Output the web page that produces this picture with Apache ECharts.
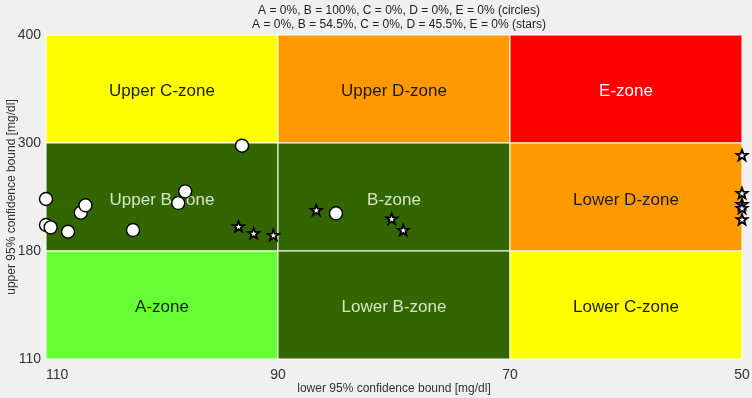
<!DOCTYPE html>
<html>
<head>
<meta charset="utf-8">
<script src="https://cdn.jsdelivr.net/npm/echarts@6/dist/echarts.min.js"></script>
<style>
html,body{margin:0;padding:0;background:#f0f0f0;}
#chart{width:752px;height:398px;}
</style>
</head>
<body>
<div id="chart"></div>
<script>
// ---- data ----
const titleLines = [
  "A = 0%, B = 100%, C = 0%, D = 0%, E = 0% (circles)",
  "A = 0%, B = 54.5%, C = 0%, D = 45.5%, E = 0% (stars)"
];
const xTicks = [110, 90, 70, 50];
const yTicks = [110, 180, 300, 400];
const xLabel = "lower 95% confidence bound [mg/dl]";
const yLabel = "upper 95% confidence bound [mg/dl]";

const zoneNames = ["Upper C-zone", "Upper D-zone", "E-zone",
                   "Upper B-zone", "B-zone", "Lower D-zone",
                   "A-zone", "Lower B-zone", "Lower C-zone"];
const zoneX = [[110, 90], [90, 70], [70, 50]];
const zoneY = [[300, 400], [180, 300], [110, 180]];

const circleLower = [110.0, 110.0, 109.6, 108.1, 107.0, 106.6, 102.5, 98.6, 98.0, 93.1, 85.0];
const circleUpper = [237.8, 208.9, 206.3, 201.4, 222.6, 230.8, 203.3, 233.3, 246.3, 297.0, 221.9];
const starLower = [93.4, 92.1, 90.4, 86.7, 80.2, 79.2, 50, 50, 50, 50, 50];
const starUpper = [207.4, 199.7, 197.8, 225.6, 215.9, 203.3, 286.7, 244.4, 232.2, 227.8, 215.2];

// ---- styling ----
const zoneColors = ["#ffff00", "#ff9900", "#ff0000",
                    "#336600", "#336600", "#ff9900",
                    "#66ff33", "#336600", "#ffff00"];
const zoneTextColors = ["#1a1a1a", "#1a1a1a", "#ffffff",
                        "#d5e6c6", "#d5e6c6", "#1a1a1a",
                        "#1a1a1a", "#d5e6c6", "#1a1a1a"];
const FONT = "Liberation Sans";

// piecewise-linear y scale: each band between ticks gets equal height
function yPos(v) {
  for (let i = 0; i < yTicks.length - 1; i++) {
    if (v <= yTicks[i + 1]) return i + (v - yTicks[i]) / (yTicks[i + 1] - yTicks[i]);
  }
  return yTicks.length - 1;
}
function starPath() {
  const p = [];
  for (let i = 0; i < 10; i++) {
    const r = i % 2 ? 0.4 : 1;
    const a = -Math.PI / 2 + i * Math.PI / 5;
    p.push((50 + 50 * r * Math.cos(a)).toFixed(2) + "," + (50 + 50 * r * Math.sin(a)).toFixed(2));
  }
  return "path://M" + p.join("L") + "Z";
}

const areas = [];
for (let r = 0; r < 3; r++) {
  for (let c = 0; c < 3; c++) {
    const k = r * 3 + c;
    areas.push([
      { name: zoneNames[k], xAxis: zoneX[c][0], yAxis: yPos(zoneY[r][1]),
        itemStyle: { color: zoneColors[k], borderColor: "#ffffff", borderWidth: 1, opacity: 1 },
        label: { color: zoneTextColors[k], offset: [0, r === 1 ? 3 : 2] } },
      { xAxis: zoneX[c][1], yAxis: yPos(zoneY[r][0]) }
    ]);
  }
}

const chart = echarts.init(document.getElementById("chart"), null, { renderer: "canvas" });
chart.setOption({
  backgroundColor: "#f0f0f0",
  animation: false,
  textStyle: { fontFamily: FONT },
  title: {
    text: titleLines.join("\n"),
    left: 394, top: -1, textAlign: "center",
    textStyle: { fontFamily: FONT, fontSize: 12, fontWeight: "normal", color: "#222", lineHeight: 14 }
  },
  grid: { left: 46, right: 10, top: 35, bottom: 39, containLabel: false, outerBoundsMode: "none" },
  xAxis: {
    type: "value", min: 50, max: 110, interval: 20, inverse: true,
    name: xLabel, nameLocation: "middle", nameGap: 24, nameMoveOverlap: false,
    nameTextStyle: { fontFamily: FONT, fontSize: 12, color: "#333" },
    axisLine: { show: false }, axisTick: { show: false }, splitLine: { show: false },
    axisLabel: { fontFamily: FONT, fontSize: 14, color: "#333", margin: 9, alignMaxLabel: "left" }
  },
  yAxis: {
    type: "value", min: 0, max: yTicks.length - 1, interval: 1,
    name: yLabel, nameLocation: "middle", nameGap: 28, nameRotate: 90, nameMoveOverlap: false,
    nameTextStyle: { fontFamily: FONT, fontSize: 12, color: "#333" },
    axisLine: { show: false }, axisTick: { show: false }, splitLine: { show: false },
    axisLabel: { fontFamily: FONT, fontSize: 14, color: "#333", margin: 5,
      formatter: v => String(yTicks[Math.round(v)]) }
  },
  series: [
    {
      type: "scatter", name: "stars", z: 3, clip: false,
      symbol: starPath(), symbolKeepAspect: true, symbolSize: 11,
      itemStyle: { color: "#ffffff", borderColor: "#000000", borderWidth: 1.8, opacity: 1 },
      data: starLower.map((x, i) => [x, yPos(starUpper[i])]),
      markArea: {
        silent: true,
        label: { show: true, position: "inside", fontFamily: FONT, fontSize: 17 },
        data: areas
      }
    },
    {
      type: "scatter", name: "circles", z: 4, clip: false,
      symbol: "circle", symbolSize: 13,
      itemStyle: { color: "#ffffff", borderColor: "#000000", borderWidth: 1.4, opacity: 1 },
      data: circleLower.map((x, i) => [x, yPos(circleUpper[i])])
    }
  ]
});
</script>
</body>
</html>
